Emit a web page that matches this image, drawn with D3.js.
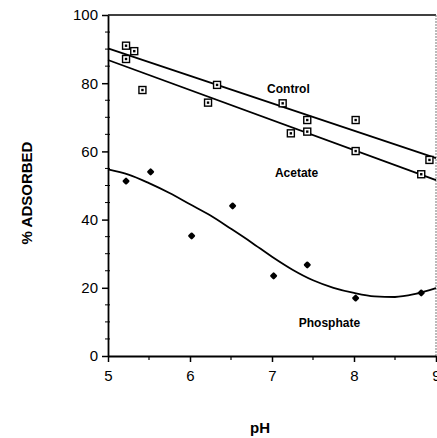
<!DOCTYPE html>
<html><head><meta charset="utf-8">
<script src="https://cdn.jsdelivr.net/npm/d3@7"></script>
<style>body{margin:0;background:#fff}svg{display:block}text{font-family:Arial,"Liberation Sans",Helvetica,sans-serif;fill:#000}</style>
</head><body><svg id="c" width="437" height="438"></svg>
<script>
const controlPH = [5.22, 5.32, 6.33, 7.13, 7.43, 8.02, 8.92];
const controlVal = [91, 89.4, 79.5, 74.1, 69.2, 69.2, 57.5];
const acetatePH = [5.22, 5.42, 6.22, 7.23, 7.43, 8.02, 8.82];
const acetateVal = [87.1, 78, 74.3, 65.3, 65.8, 60.1, 53.3];
const phosphatePH = [5.22, 5.52, 6.02, 6.52, 7.02, 7.43, 8.02, 8.82];
const phosphateVal = [51.3, 54, 35.2, 44, 23.5, 26.7, 17, 18.5];
const controlFitPH = [5, 9], controlFitVal = [90.2, 58];
const acetateFitPH = [5, 9], acetateFitVal = [86.8, 51.6];
const phosCurvePH = [5, 5.25, 5.5, 5.75, 6, 6.25, 6.5, 6.75, 7, 7.25, 7.5, 7.75, 8, 8.25, 8.5, 8.75, 9];
const phosCurveVal = [54.7, 53.2, 50.7, 47.8, 44.5, 41.2, 37.3, 33.3, 29.1, 25.3, 22.2, 20, 18.5, 17.5, 17.3, 18.2, 19.9];
const xTicks = [5, 6, 7, 8, 9];
const yTicks = [0, 20, 40, 60, 80, 100];
const labels = [{t:"Control", x:7.2, y:77}, {t:"Acetate", x:7.3, y:52.5}, {t:"Phosphate", x:7.7, y:8.5}];

const svg = d3.select("#c");
const x = d3.scaleLinear().domain([5, 9]).range([108, 436]);
const y = d3.scaleLinear().domain([0, 100]).range([356, 15]);

// frame
svg.append("line").attr("x1", x(5)).attr("x2", x(9)).attr("y1", y(100)).attr("y2", y(100)).attr("stroke", "#000").attr("stroke-width", 1.5);
svg.append("line").attr("x1", x(9)).attr("x2", x(9)).attr("y1", y(100)).attr("y2", y(0)).attr("stroke", "#777").attr("stroke-width", 1).attr("stroke-dasharray", "2,1");

// y axis
const ya = svg.append("g").attr("transform", `translate(${x(5)},0)`)
  .call(d3.axisLeft(y).tickValues(yTicks).tickSize(6).tickPadding(4).tickSizeOuter(0));
ya.selectAll("text").style("font-size", "15px").style("font-family", "Arial, 'Liberation Sans', sans-serif");
ya.select(".domain").attr("stroke-width", 1.8);
ya.selectAll(".tick line").attr("stroke-width", 1.5);
svg.append("g").selectAll("line").data(d3.range(5, 100, 5).filter(v => v % 20 !== 0)).join("line")
  .attr("x1", x(5) - 3).attr("x2", x(5) + 2).attr("y1", d => y(d)).attr("y2", d => y(d)).attr("stroke", "#000").attr("stroke-width", 1);

// x axis
const xa = svg.append("g").attr("transform", `translate(0,${y(0)})`)
  .call(d3.axisBottom(x).tickValues(xTicks).tickSize(6).tickPadding(8).tickSizeOuter(0).tickFormat(d3.format("d")));
xa.selectAll("text").style("font-size", "15px").style("font-family", "Arial, 'Liberation Sans', sans-serif");
xa.select(".domain").attr("stroke-width", 1.8);
xa.selectAll(".tick line").attr("stroke-width", 1.5);
svg.append("g").selectAll("line").data([5.5, 6.5, 7.5, 8.5]).join("line")
  .attr("x1", d => x(d)).attr("x2", d => x(d)).attr("y1", y(0)).attr("y2", y(0) + 4).attr("stroke", "#000").attr("stroke-width", 1.2);

// axis titles
svg.append("text").attr("x", 260).attr("y", 433).attr("text-anchor", "middle")
  .style("font-size", "15px").style("font-weight", "bold").text("pH");
svg.append("text").attr("transform", "translate(32,193) rotate(-90)").attr("text-anchor", "middle")
  .style("font-size", "15px").style("font-weight", "bold").text("% ADSORBED");

// fit lines
const line = d3.line().x(d => x(d[0])).y(d => y(d[1]));
svg.append("path").attr("d", line(d3.zip(controlFitPH, controlFitVal))).attr("fill", "none").attr("stroke", "#000").attr("stroke-width", 1.8);
svg.append("path").attr("d", line(d3.zip(acetateFitPH, acetateFitVal))).attr("fill", "none").attr("stroke", "#000").attr("stroke-width", 1.8);
svg.append("path").attr("d", d3.line().curve(d3.curveMonotoneX).x(d => x(d[0])).y(d => y(d[1]))(d3.zip(phosCurvePH, phosCurveVal)))
  .attr("fill", "none").attr("stroke", "#000").attr("stroke-width", 1.8);

// square markers
function squares(ph, val) {
  const g = svg.append("g").selectAll("g").data(d3.zip(ph, val)).join("g")
    .attr("transform", d => `translate(${x(d[0])},${y(d[1])})`);
  g.append("rect").attr("x", -3.5).attr("y", -3.5).attr("width", 7).attr("height", 7).attr("fill", "#fff").attr("stroke", "#000").attr("stroke-width", 1.4);
  g.append("rect").attr("x", -1.2).attr("y", -1.2).attr("width", 2.4).attr("height", 2.4).attr("fill", "#000");
}
squares(controlPH, controlVal);
squares(acetatePH, acetateVal);

// phosphate markers (rounded diamonds)
svg.append("g").selectAll("rect").data(d3.zip(phosphatePH, phosphateVal)).join("rect")
  .attr("x", -2.8).attr("y", -2.8).attr("width", 5.6).attr("height", 5.6).attr("rx", 1.2)
  .attr("transform", d => `translate(${x(d[0])},${y(d[1])}) rotate(45)`).attr("fill", "#000");

// series labels
svg.append("g").selectAll("text").data(labels).join("text")
  .attr("x", d => x(d.x)).attr("y", d => y(d.y)).attr("text-anchor", "middle")
  .style("font-size", "12px").style("font-weight", "bold").text(d => d.t);
</script></body></html>
